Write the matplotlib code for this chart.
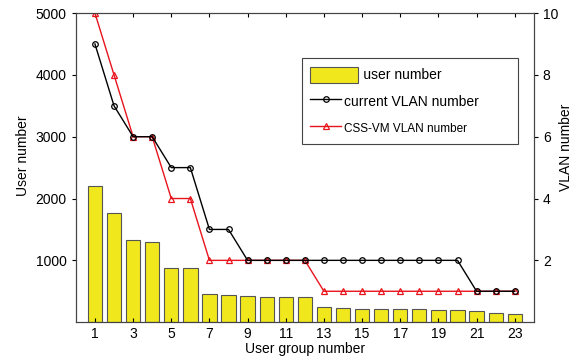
import matplotlib
matplotlib.use('Agg')
import matplotlib.pyplot as plt
import numpy as np

plt.rcParams['font.family'] = ['Liberation Sans', 'DejaVu Sans']

groups = np.arange(1, 24)
user_number = [2200, 1770, 1330, 1300, 880, 880, 450, 440, 430, 415, 410, 405,
               240, 230, 220, 220, 210, 210, 200, 190, 185, 145, 135]
current_vlan = [9, 7, 6, 6, 5, 5, 3, 3, 2, 2, 2, 2, 2, 2, 2, 2, 2, 2, 2, 2, 1, 1, 1]
cssvm_vlan = [10, 8, 6, 6, 4, 4, 2, 2, 2, 2, 2, 2, 1, 1, 1, 1, 1, 1, 1, 1, 1, 1, 1]

bar_color = '#F0E81C'

fig = plt.figure(figsize=(5.79, 3.62), dpi=100)
ax = fig.add_axes([0.131, 0.110, 0.791, 0.854])

bars = ax.bar(groups, user_number, width=0.75, color=bar_color,
              edgecolor='#555555', linewidth=0.8, label='user number')
ax.set_xlim(0, 24)
ax.set_ylim(0, 5000)
ax.set_xticks(np.arange(1, 24, 2))
ax.set_yticks([1000, 2000, 3000, 4000, 5000])
ax.tick_params(axis='x', direction='in', top=True, length=3, labelsize=10)
ax.tick_params(axis='y', direction='out', length=3, labelsize=10)
ax.set_xlabel('User group number', fontsize=10, labelpad=1)
ax.set_ylabel('User number', fontsize=10)
ax.yaxis.set_label_coords(-0.101, 0.54)

ax2 = ax.twinx()
l2, = ax2.plot(groups, cssvm_vlan, color='#E8141C', lw=1.0, marker='^',
               ms=4.5, mfc='none', mew=0.9, label='CSS-VM VLAN number')
l1, = ax2.plot(groups, current_vlan, color='black', lw=1.0, marker='o',
               ms=4, mfc='none', mew=0.9, label='current VLAN number')
ax2.set_ylim(0, 10)
ax2.set_yticks([2, 4, 6, 8, 10])
ax2.tick_params(axis='y', direction='out', length=3, labelsize=10)
ax2.set_ylabel('VLAN number', fontsize=10)
ax2.yaxis.set_label_coords(1.055, 0.565)

for a in (ax, ax2):
    for s in a.spines.values():
        s.set_color('#444444')
        s.set_linewidth(0.8)

# matlab style legend: wide patch, short line handles, box wider than text
leg = ax2.legend([bars, l1, l2],
                 ['     user number', 'current VLAN number', 'CSS-VM VLAN number'],
                 loc='upper left', bbox_to_anchor=(0.494, 0.5, 0.471, 0.354),
                 mode='expand', borderaxespad=0, fontsize=10,
                 fancybox=False, edgecolor='#444444', framealpha=1,
                 handlelength=2.2, handleheight=1.4, handletextpad=0.25,
                 borderpad=0.6, labelspacing=0.75)
leg.get_frame().set_linewidth(0.8)
leg.get_texts()[2].set_fontsize(8.5)
# stretch the bar patch to the right like the original
patch = leg.get_patches()[0]
patch.set_width(patch.get_width() * 1.55)

fig.savefig('out.png', dpi=100)
